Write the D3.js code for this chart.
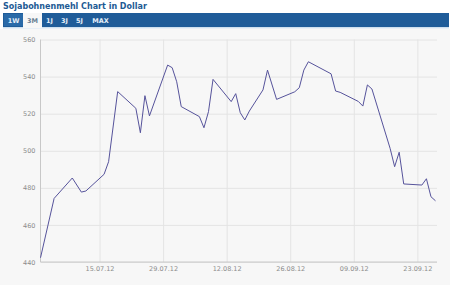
<!DOCTYPE html>
<html>
<head>
<meta charset="utf-8">
<script src="https://cdnjs.cloudflare.com/ajax/libs/d3/7.8.5/d3.min.js"></script>
<style>
  body { margin: 0; background: #fff; }
  .tick text { font-family: 'DejaVu Sans', Verdana, sans-serif; font-size: 6.5px; fill: #8c8c8c; }
  .tick line { stroke: #e4e4e4; }
  .line-path { fill: none; stroke: #56539b; }
</style>
</head>
<body>
<div id="chart"></div>
<script>
const title = 'Sojabohnenmehl Chart in Dollar'
const tabs = ['1W', '3M', '1J', '3J', '5J', 'MAX']
const activeTab = '3M'

const dates = ['02.07.12','05.07.12','09.07.12','11.07.12','12.07.12','16.07.12','17.07.12','19.07.12',
    '23.07.12','24.07.12','25.07.12','26.07.12','30.07.12','31.07.12','01.08.12','02.08.12',
    '06.08.12','07.08.12','08.08.12','09.08.12','13.08.12','14.08.12','15.08.12','16.08.12',
    '17.08.12','20.08.12','21.08.12','23.08.12','27.08.12','28.08.12','29.08.12','30.08.12',
    '04.09.12','05.09.12','06.09.12','10.09.12','11.09.12','12.09.12','13.09.12','17.09.12',
    '18.09.12','19.09.12','20.09.12','24.09.12','25.09.12','26.09.12','27.09.12']
const prices = [442.3, 474.3, 485.3, 477.7, 478.3, 487.3, 494.1, 531.9,
    522.9, 509.7, 529.7, 518.8, 546.2, 544.8, 537.2, 523.8,
    518.4, 512.4, 521.1, 538.5, 526.5, 530.8, 520.5, 516.6,
    521.4, 532.8, 543.5, 527.7, 531.8, 534.0, 543.5, 548.0,
    541.5, 532.2, 531.5, 526.6, 524.1, 535.5, 533.3, 501.3,
    491.4, 499.2, 482.1, 481.5, 484.9, 475.2, 473.0]
const xTicks = ['15.07.12', '29.07.12', '12.08.12', '26.08.12', '09.09.12', '23.09.12']
const yTicks = [440, 460, 480, 500, 520, 540, 560]

const parseDate = d3.timeParse('%d.%m.%y')
const data = dates.map((d, i) => ({time: parseDate(d), price: prices[i]}))

const width = 450, height = 300
const svg = d3.select('#chart').append('svg')
    .attr('width', width)
    .attr('height', height)

// header: title + tab bar
svg.append('text')
    .attr('x', 3)
    .attr('y', 9)
    .attr('font-family', "'DejaVu Sans', Verdana, sans-serif")
    .attr('font-size', 8)
    .attr('font-weight', 'bold')
    .attr('fill', '#1d5a94')
    .text(title)

svg.append('rect')
    .attr('x', 3).attr('y', 13)
    .attr('width', 446).attr('height', 14)
    .attr('fill', '#1f5c99')
svg.append('rect')
    .attr('x', 3).attr('y', 27)
    .attr('width', 446).attr('height', 1.5)
    .attr('fill', '#cfe0ef')

const tabX = [4, 23, 42, 57, 72, 87]
const tabW = [19, 19, 15, 15, 15, 27]
const tabG = svg.append('g')
tabs.forEach((t, i) => {
    const active = t === activeTab
    tabG.append('rect')
        .attr('x', tabX[i]).attr('y', active ? 13 : 14)
        .attr('width', tabW[i]).attr('height', active ? 15 : 12)
        .attr('fill', active ? '#f7f7f7' : (i === 0 ? '#2a6aa8' : '#1f5c99'))
    tabG.append('text')
        .attr('x', tabX[i] + tabW[i] / 2)
        .attr('y', 23)
        .attr('text-anchor', 'middle')
        .attr('font-family', "'DejaVu Sans', Verdana, sans-serif")
        .attr('font-size', 6.5)
        .attr('font-weight', 'bold')
        .attr('fill', active ? '#6a7f93' : '#e4eef8')
        .text(t)
})

// chart background
svg.append('rect')
    .attr('x', 0).attr('y', 29)
    .attr('width', width).attr('height', 256)
    .attr('fill', '#f7f7f7')

const margin = {top: 39.5, right: 14, bottom: 38, left: 40.5}
const innerWidth = width - margin.left - margin.right
const innerHeight = height - margin.top - margin.bottom

const xScale = d3.scaleTime()
    .domain(d3.extent(data, d => d.time))
    .range([0, innerWidth - 0.5])
const yScale = d3.scaleLinear()
    .domain([440, 560])
    .range([innerHeight, 0])

const g = svg.append('g')
    .attr('transform', `translate(${margin.left},${margin.top})`)

const yAxis = d3.axisLeft(yScale)
    .tickValues(yTicks)
    .tickSize(-(innerWidth + 1))
    .tickPadding(5)
const yAxisG = g.append('g').call(yAxis)
yAxisG.select('.domain').remove()

const xAxis = d3.axisBottom(xScale)
    .tickValues(xTicks.map(parseDate))
    .tickFormat(d3.timeFormat('%d.%m.%y'))
    .tickSize(-innerHeight)
    .tickPadding(4)
const xAxisG = g.append('g').call(xAxis)
    .attr('transform', `translate(0,${innerHeight})`)
xAxisG.select('.domain').remove()

// axis lines
g.append('line')
    .attr('x1', 0).attr('x2', 0)
    .attr('y1', 0).attr('y2', innerHeight)
    .attr('stroke', '#c8c8c8')
g.append('line')
    .attr('x1', 0).attr('x2', innerWidth + 1)
    .attr('y1', innerHeight).attr('y2', innerHeight)
    .attr('stroke', '#c8c8c8')

const lineGenerator = d3.line()
    .x(d => xScale(d.time))
    .y(d => yScale(d.price))

g.append('path')
    .attr('class', 'line-path')
    .attr('d', lineGenerator(data))
    .attr('stroke-width', 1)
</script>
</body>
</html>
